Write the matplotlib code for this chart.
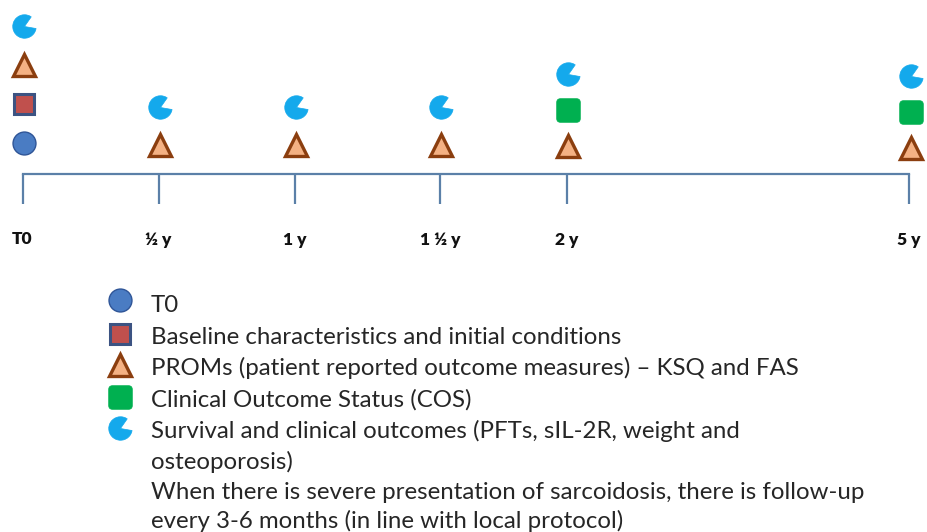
import matplotlib
matplotlib.use("Agg")
import matplotlib.pyplot as plt
import matplotlib.transforms as mtransforms
from matplotlib.path import Path
from matplotlib.patches import FancyBboxPatch
from matplotlib.textpath import TextPath
from matplotlib.font_manager import FontProperties

# ---------------- data ----------------
timepoints = ["T0", "½ y", "1 y", "1 ½ y", "2 y", "5 y"]
timeline_pos = [0, 1, 2, 3.07, 4, 6.52]          # relative position along the timeline
# assessments carried out at each time point (bottom -> top)
stack_T0 = ["T0", "Baseline", "PROMs", "Survival"]
stack_6m = ["PROMs", "Survival"]
stack_1y = ["PROMs", "Survival"]
stack_18m = ["PROMs", "Survival"]
stack_2y = ["PROMs", "COS", "Survival"]
stack_5y = ["PROMs", "COS", "Survival"]
stacks = [stack_T0, stack_6m, stack_1y, stack_18m, stack_2y, stack_5y]

legend_keys = ["T0", "Baseline", "PROMs", "COS", "Survival"]
legend_text = [
    "T0",
    "Baseline characteristics and initial conditions",
    "PROMs (patient reported outcome measures) – KSQ and FAS",
    "Clinical Outcome Status (COS)",
    "Survival and clinical outcomes (PFTs, sIL-2R, weight and",
]
extra_lines = [
    "osteoporosis)",
    "When there is severe presentation of sarcoidosis, there is follow-up",
    "every 3-6 months (in line with local protocol)",
]

# ---------------- styles ----------------
W, H, DPI = 927, 532, 100
FONT = "Lato"
LINE_C = "#5b80a8"

def rounded_square():
    p = FancyBboxPatch((-1, -1), 2, 2, boxstyle="round,pad=0,rounding_size=0.32")
    return p.get_path()

pie_path = Path.wedge(55, 350)

styles = {
    "T0": dict(marker="o", ms=16.5, mfc="#4a7cc3", mec="#2f5597", mew=1.0),
    "Baseline": dict(marker="s", ms=15.0, mfc="#c0504d", mec="#3c5382", mew=2.2),
    "PROMs": dict(marker="^", ms=15.5, mfc="#f4b183", mec="#8b3e0f", mew=2.4),
    "COS": dict(marker=rounded_square(), ms=17.0, mfc="#00b050", mec="#00b050", mew=0.5),
    "Survival": dict(marker=pie_path, ms=17.0, mfc="#14a9ec", mec="#14a9ec", mew=0.5),
}

fig = plt.figure(figsize=(W / DPI, H / DPI), dpi=DPI)
fig.patch.set_facecolor("white")
ax = fig.add_axes([0, 0, 1, 1])
ax.axis("off")

# x: timeline units, 136 px per unit, origin at 22.5 px
px_per_unit = 136.0
x0_px = 22.5
ax.set_xlim(-x0_px / px_per_unit, (W - x0_px) / px_per_unit)
ax.set_ylim(H, 0)  # y in pixel rows

line_y, tick_y = 173.5, 204
ax.plot([timeline_pos[0], timeline_pos[-1]], [line_y, line_y], color=LINE_C, lw=1.6,
        solid_capstyle="projecting")
ax.vlines(timeline_pos, line_y, tick_y, color=LINE_C, lw=1.6)

col_base = [143, 145, 145, 145, 146, 148]
col_step = [39, 38, 38, 38, 36, 36]
for x, stack, b, s in zip(timeline_pos, stacks, col_base, col_step):
    for i, key in enumerate(stack):
        st = styles[key]
        ax.plot([x + 0.01], [b - s * i], linestyle="none", marker=st["marker"],
                markersize=st["ms"], markerfacecolor=st["mfc"],
                markeredgecolor=st["mec"], markeredgewidth=st["mew"])

for x, lab in zip(timeline_pos, timepoints):
    ax.text(x, 244.5, lab, ha="center", va="baseline",
            fontsize=12.5, fontweight="heavy", family=FONT, color="#111111")

# ---------------- legend ----------------
pix = mtransforms.Affine2D().scale(1 / W, -1 / H).translate(0, 1) + fig.transFigure

# fit font size so that the Baseline line spans ~466 px
fp = FontProperties(family=FONT, size=10)
tp = TextPath((0, 0), legend_text[1], prop=fp)
w10 = tp.get_extents().width * DPI / 72.0
fs = 10 * 466.0 / w10

leg_marker_y = [300, 334, 365, 397, 428]
leg_base_y = [312, 344, 375, 407, 438]
for key, y in zip(legend_keys, leg_marker_y):
    st = styles[key]
    fig.lines.append(matplotlib.lines.Line2D(
        [120], [y], transform=pix, linestyle="none", marker=st["marker"],
        markersize=st["ms"], markerfacecolor=st["mfc"],
        markeredgecolor=st["mec"], markeredgewidth=st["mew"]))

all_lines = legend_text + extra_lines
base_ys = leg_base_y + [469, 499, 528]
for txt, y in zip(all_lines, base_ys):
    fig.text(151, y, txt, transform=pix, ha="left", va="baseline", fontsize=fs,
             family=FONT, color="#262626")

fig.savefig("out.png", dpi=DPI, facecolor="white")
